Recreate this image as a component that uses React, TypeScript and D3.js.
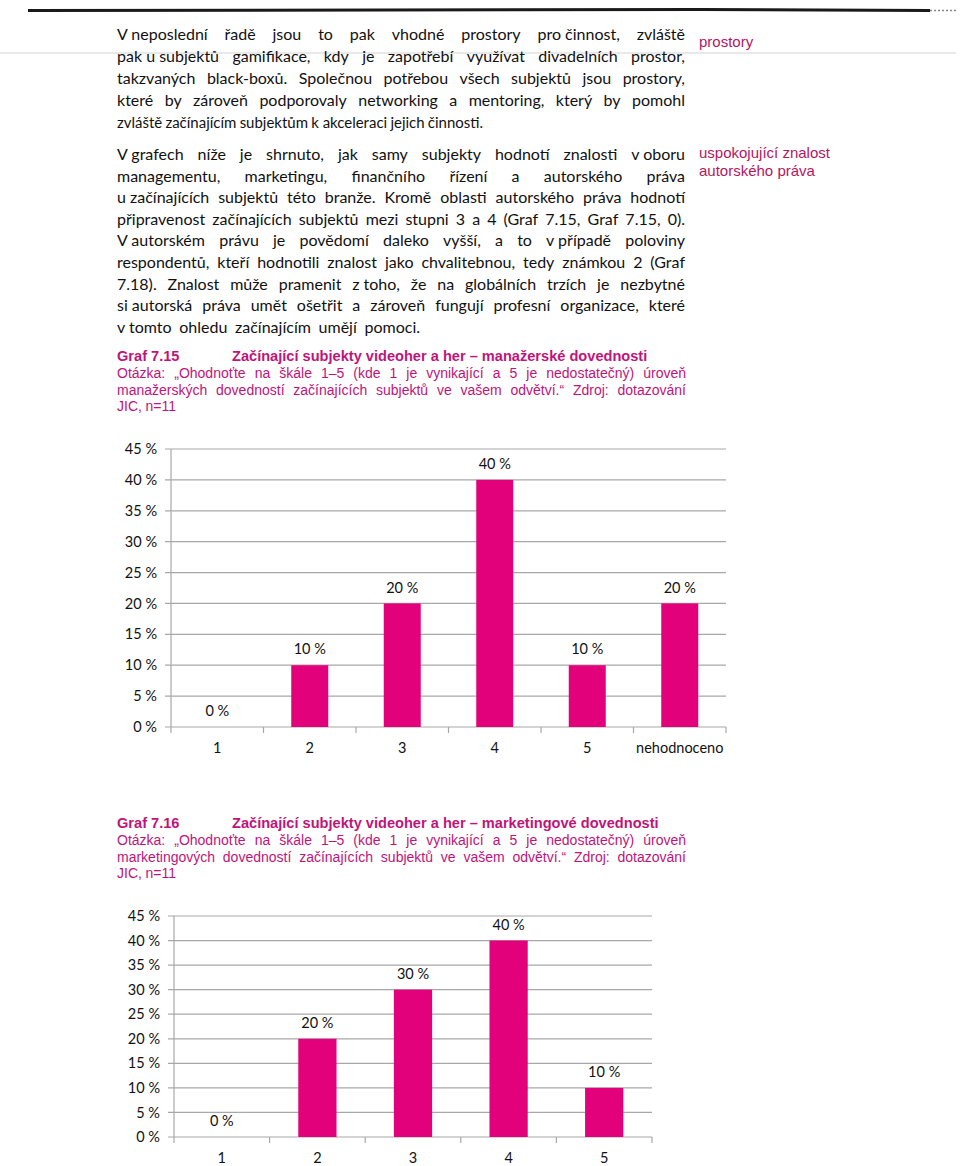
import { useEffect, useRef } from "react";
import * as d3 from "d3";

const PINK = "#e3007b";
const CAPTION = "#c0147a";
const NOTE = "#b3175f";

// body text, line by line as set in the original page
const para1 = [
  "V\u00a0neposlední řadě jsou to pak vhodné prostory pro\u00a0činnost, zvláště",
  "pak\u00a0u\u00a0subjektů gamifikace, kdy je zapotřebí využívat divadelních prostor,",
  "takzvaných black-boxů. Společnou potřebou všech subjektů jsou prostory,",
  "které by zároveň podporovaly networking a mentoring, který by pomohl",
  "zvláště začínajícím subjektům k\u00a0akceleraci jejich činnosti.",
];
const para2 = [
  "V\u00a0grafech níže je shrnuto, jak samy subjekty hodnotí znalosti v\u00a0oboru",
  "managementu, marketingu, finančního řízení a autorského práva",
  "u\u00a0začínajících subjektů této branže. Kromě oblasti autorského práva hodnotí",
  "připravenost začínajících subjektů mezi stupni 3 a 4 (Graf 7.15, Graf 7.15, 0).",
  "V\u00a0autorském právu je povědomí daleko vyšší, a to v\u00a0případě poloviny",
  "respondentů, kteří hodnotili znalost jako chvalitebnou, tedy známkou 2 (Graf",
  "7.18). Znalost může pramenit z\u00a0toho, že na globálních trzích je nezbytné",
  "si\u00a0autorská práva umět ošetřit a zároveň fungují profesní organizace, které",
  "v\u00a0tomto ohledu začínajícím umějí pomoci.",
];
const question1 = [
  "Otázka: „Ohodnoťte na škále 1–5 (kde 1 je vynikající a 5 je nedostatečný) úroveň",
  "manažerských dovedností začínajících subjektů ve vašem odvětví.“ Zdroj: dotazování",
  "JIC, n=11",
];
const question2 = [
  "Otázka: „Ohodnoťte na škále 1–5 (kde 1 je vynikající a 5 je nedostatečný) úroveň",
  "marketingových dovedností začínajících subjektů ve vašem odvětví.“ Zdroj: dotazování",
  "JIC, n=11",
];
const notes1 = ["prostory"];
const notes2 = ["uspokojující znalost", "autorského práva"];

// chart data
const cats1 = ["1", "2", "3", "4", "5", "nehodnoceno"];
const vals1 = [0, 10, 20, 40, 10, 20];
const cats2 = ["1", "2", "3", "4", "5"];
const vals2 = [0, 20, 30, 40, 10];
const yTicks = [0, 5, 10, 15, 20, 25, 30, 35, 40, 45];

type BlockOpts = {
  lines: string[];
  x: number;
  y: number;
  lh: number;
  width: number;
  lastWidth?: number;
  family: string;
  size: number;
  color: string;
};

// lay out each line word by word so it fills the column (justified)
function justify(root: d3.Selection<SVGGElement, unknown, null, undefined>, o: BlockOpts) {
  o.lines.forEach((line, i) => {
    const last = i === o.lines.length - 1;
    const words = line.split(" ");
    const row = root.append("g").attr("transform", `translate(${o.x},${o.y + i * o.lh})`);
    const nodes = words.map((w) =>
      row
        .append("text")
        .text(w)
        .attr("font-family", o.family)
        .attr("font-size", o.size)
        .attr("fill", o.color),
    );
    const widths = nodes.map((n) => (n.node() as SVGTextElement).getComputedTextLength());
    const sum = d3.sum(widths);
    const minGap = o.size * 0.2;
    let target: number;
    if (last) target = o.lastWidth ? o.lastWidth : sum + minGap * 1.3 * (words.length - 1);
    else target = o.width;
    let k = 1;
    let gap = words.length > 1 ? (target - sum) / (words.length - 1) : 0;
    if (words.length > 1 && gap < minGap) {
      k = (target - minGap * (words.length - 1)) / sum;
      gap = minGap;
    }
    let cx = 0;
    nodes.forEach((n, j) => {
      n.attr("transform", `translate(${cx},0) scale(${k},1)`);
      cx += widths[j] * k + gap;
    });
  });
}

type ChartProps = {
  cats: string[];
  vals: number[];
  left: number;
  right: number;
  zero: number;
  top: number;
};

const BarChart = ({ cats, vals, left, right, zero, top }: ChartProps) => {
  const x = d3.scaleBand<string>().domain(cats).range([left, right]).paddingInner(0.6).paddingOuter(0.3);
  const y = d3.scaleLinear().domain([0, 45]).range([zero, top]);
  const step = x.step();
  const bounds = d3.range(cats.length + 1).map((i) => left + i * step);
  const font = "Lato, 'Open Sans', sans-serif";
  return (
    <g fontFamily={font} fontSize={14.5} fill="#111">
      {yTicks.map((t) => (
        <g key={t}>
          <line x1={left - 6} x2={right} y1={y(t)} y2={y(t)} stroke="#a8a8a8" strokeWidth={1.2} />
          <text x={left - 14} y={y(t)} dy="0.35em" textAnchor="end">
            {`${t} %`}
          </text>
        </g>
      ))}
      <line x1={left} x2={left} y1={y(45)} y2={zero} stroke="#a8a8a8" strokeWidth={1.2} />
      {bounds.map((b, i) => (
        <line key={i} x1={b} x2={b} y1={zero} y2={zero + 6} stroke="#a8a8a8" strokeWidth={1.2} />
      ))}
      {cats.map((c, i) => (
        <g key={c}>
          {vals[i] > 0 && (
            <rect x={x(c)} y={y(vals[i])} width={x.bandwidth()} height={zero - y(vals[i])} fill={PINK} />
          )}
          <text x={(x(c) ?? 0) + x.bandwidth() / 2} y={y(vals[i]) - 16} dy="0.35em" textAnchor="middle">
            {`${vals[i]} %`}
          </text>
          <text x={(x(c) ?? 0) + x.bandwidth() / 2} y={zero + 21} dy="0.35em" textAnchor="middle">
            {c}
          </text>
        </g>
      ))}
    </g>
  );
};

const App = () => {
  const textRef = useRef<SVGGElement>(null);

  useEffect(() => {
    if (!textRef.current) return;
    const root = d3.select(textRef.current);
    root.selectAll("*").remove();
    const body = "Lato, 'Open Sans', sans-serif";
    const arial = "'Liberation Sans', Arial, sans-serif";
    justify(root, { lines: para1, x: 117, y: 40, lh: 22, width: 568, lastWidth: 366, family: body, size: 16, color: "#111" });
    justify(root, { lines: para2, x: 117, y: 160, lh: 21.6, width: 568, lastWidth: 303, family: body, size: 16, color: "#111" });
    justify(root, { lines: question1, x: 117, y: 378, lh: 16.6, width: 569, family: arial, size: 14, color: CAPTION });
    justify(root, { lines: question2, x: 117, y: 845, lh: 16.6, width: 569, family: arial, size: 14, color: CAPTION });
  }, []);

  return (
    <svg
      width={960}
      height={1166}
      style={{ position: "absolute", left: 0, top: 0, background: "#fff" }}
    >
      {/* page header rules */}
      <path d="M28,10.5 L700,9.5 L930,10.5" stroke="#1a1a1a" strokeWidth={3} fill="none" />
      <line x1={930} x2={956} y1={10.5} y2={10.5} stroke="#888" strokeWidth={1.5} strokeDasharray="2 2" />
      <line x1={0} x2={956} y1={53} y2={53} stroke="#e2e2e2" strokeWidth={1.5} />

      {/* margin notes */}
      <g fontFamily="'Liberation Sans', Arial, sans-serif" fontSize={15} fill={NOTE}>
        {notes1.map((n, i) => (
          <text key={n} x={699} y={47 + i * 18}>{n}</text>
        ))}
        {notes2.map((n, i) => (
          <text key={n} x={699} y={158 + i * 18}>{n}</text>
        ))}
      </g>

      <g ref={textRef} />

      {/* captions */}
      <g fontFamily="'Liberation Sans', Arial, sans-serif" fontSize={14.6} fontWeight="bold" fill={CAPTION}>
        <text x={117} y={361}>Graf 7.15</text>
        <text x={232} y={361}>Začínající subjekty videoher a her – manažerské dovednosti</text>
        <text x={117} y={828}>Graf 7.16</text>
        <text x={232} y={828}>Začínající subjekty videoher a her – marketingové dovednosti</text>
      </g>

      <BarChart cats={cats1} vals={vals1} left={171} right={726} zero={727} top={449} />
      <BarChart cats={cats2} vals={vals2} left={174} right={652} zero={1137} top={916} />
    </svg>
  );
};

export default App;
